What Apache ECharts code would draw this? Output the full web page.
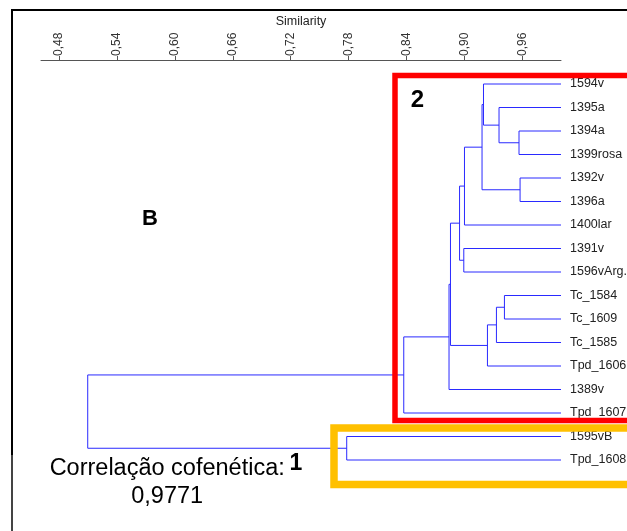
<!DOCTYPE html>
<html><head><meta charset="utf-8">
<script src="https://cdn.jsdelivr.net/npm/echarts@6/dist/echarts.min.js"></script>
<style>html,body{margin:0;padding:0;background:#fff}#c{width:627px;height:531px}</style>
</head><body><div id="c"></div>
<script>
// ---- data ----
const leafNames = ["1594v","1395a","1394a","1399rosa","1392v","1396a","1400lar","1391v","1596vArg.","Tc_1584","Tc_1609","Tc_1585","Tpd_1606","1389v","Tpd_1607","1595vB","Tpd_1608"];
const leafSimilarity = 1.0;
const mergeLeft  = ['L2','L1','L0','L4','M2','M4','L7','M5','L9','M8','M9','M7','M11','M12','L15','M13'];
const mergeRight = ['L3','M0','M1','L5','M3','L6','L8','M6','L10','L11','L12','M10','L13','L14','L16','M14'];
const mergeSimilarity = [0.9565,0.9358,0.9197,0.9576,0.9182,0.9000,0.8993,0.8949,0.9414,0.9331,0.9238,0.8855,0.8840,0.8371,0.7780,0.5097];
const tickValues = [0.48,0.54,0.60,0.66,0.72,0.78,0.84,0.90,0.96];
const tickLabels = ['0,48','0,54','0,60','0,66','0,72','0,78','0,84','0,90','0,96'];
const axisName = 'Similarity';
const cophenetic = ['Correlação cofenética:', '0,9771'];

// ---- build tree geometry in data space ----
function nodePos(id){
  const k = parseInt(id.slice(1),10);
  if(id[0]==='L') return {x: leafSimilarity, y: k};
  const a = nodePos(mergeLeft[k]), b = nodePos(mergeRight[k]);
  return {x: mergeSimilarity[k], y: (a.y+b.y)/2};
}
const segData = mergeSimilarity.map((s,k)=>{
  const a = nodePos(mergeLeft[k]), b = nodePos(mergeRight[k]);
  return [s, a.y, b.y, a.x, b.x];
});
const leafData = leafNames.map((n,i)=>[leafSimilarity, i]);

const chart = echarts.init(document.getElementById('c'), null, {renderer:'canvas'});
const FONT = '"Liberation Sans", Arial, sans-serif';
chart.setOption({
  animation:false,
  backgroundColor:'#fff',
  grid:{left:41, right:66, top:60, height:423.5},
  xAxis:{
    type:'value', position:'top', min:0.4613, max:1.0,
    name:axisName, nameLocation:'middle', nameGap:32, nameMoveOverlap:false,
    nameTextStyle:{fontFamily:FONT, fontSize:12.5, color:'#222'},
    axisLine:{show:true, onZero:false, lineStyle:{color:'#555', width:1}},
    axisTick:{show:true, length:4, customValues:tickValues, lineStyle:{color:'#555'}},
    axisLabel:{show:true, rotate:-90, margin:4, customValues:tickValues,
      fontFamily:FONT, fontSize:12, color:'#333',
      formatter:(v)=>{const i=tickValues.findIndex(t=>Math.abs(t-v)<1e-6); return i>=0?tickLabels[i]:'';}},
    splitLine:{show:false}
  },
  yAxis:{type:'value', inverse:true, min:-1.0213, max:17, show:false},
  series:[
    {
      type:'custom', clip:false, data:segData,
      encode:{x:[0,3,4], y:[1,2]},
      renderItem:(params, api)=>{
        const s=api.value(0), ya=api.value(1), yb=api.value(2), xa=api.value(3), xb=api.value(4);
        const p1=api.coord([xa,ya]), p2=api.coord([s,ya]), p3=api.coord([s,yb]), p4=api.coord([xb,yb]);
        return {type:'polyline', shape:{points:[p1,p2,p3,p4]}, style:{stroke:'#2a2aff', lineWidth:1, fill:null}};
      }
    },
    {
      type:'custom', clip:false, data:leafData,
      encode:{x:0, y:1},
      renderItem:(params, api)=>{
        const p=api.coord([api.value(0), api.value(1)]);
        return {type:'text', x:p[0]+9, y:p[1], style:{text:leafNames[params.dataIndex], fill:'#222',
          fontFamily:FONT, fontSize:12.5, align:'left', verticalAlign:'middle'}};
      }
    }
  ],
  graphic:[
    {type:'line', z:100, shape:{x1:11, y1:10, x2:627, y2:10}, style:{stroke:'#000', lineWidth:2}},
    {type:'line', z:100, shape:{x1:12, y1:9, x2:12, y2:455}, style:{stroke:'#000', lineWidth:2}},
    {type:'line', z:100, shape:{x1:12, y1:455, x2:12, y2:531}, style:{stroke:'#444', lineWidth:2}},
    {type:'rect', z:100, shape:{x:395, y:75.5, width:250, height:345}, style:{stroke:'#ff0000', lineWidth:5.5, fill:null}},
    {type:'rect', z:100, shape:{x:334, y:428, width:310, height:56.5}, style:{stroke:'#ffc000', lineWidth:7.5, fill:null}},
    {type:'text', z:101, x:417.5, y:100, style:{text:'2', fontFamily:FONT, fontWeight:'bold', fontSize:24, fill:'#000', align:'center', verticalAlign:'middle'}},
    {type:'text', z:101, x:150, y:219, style:{text:'B', fontFamily:FONT, fontWeight:'bold', fontSize:22, fill:'#000', align:'center', verticalAlign:'middle'}},
    {type:'text', z:101, x:296, y:463.5, style:{text:'1', fontFamily:FONT, fontWeight:'bold', fontSize:23, fill:'#000', align:'center', verticalAlign:'middle'}},
    {type:'text', z:101, x:167.2, y:468.7, style:{text:cophenetic[0], fontFamily:FONT, fontSize:23.5, fill:'#000', align:'center', verticalAlign:'middle'}},
    {type:'text', z:101, x:167.2, y:497, style:{text:cophenetic[1], fontFamily:FONT, fontSize:23.5, fill:'#000', align:'center', verticalAlign:'middle'}}
  ]
});
</script></body></html>
